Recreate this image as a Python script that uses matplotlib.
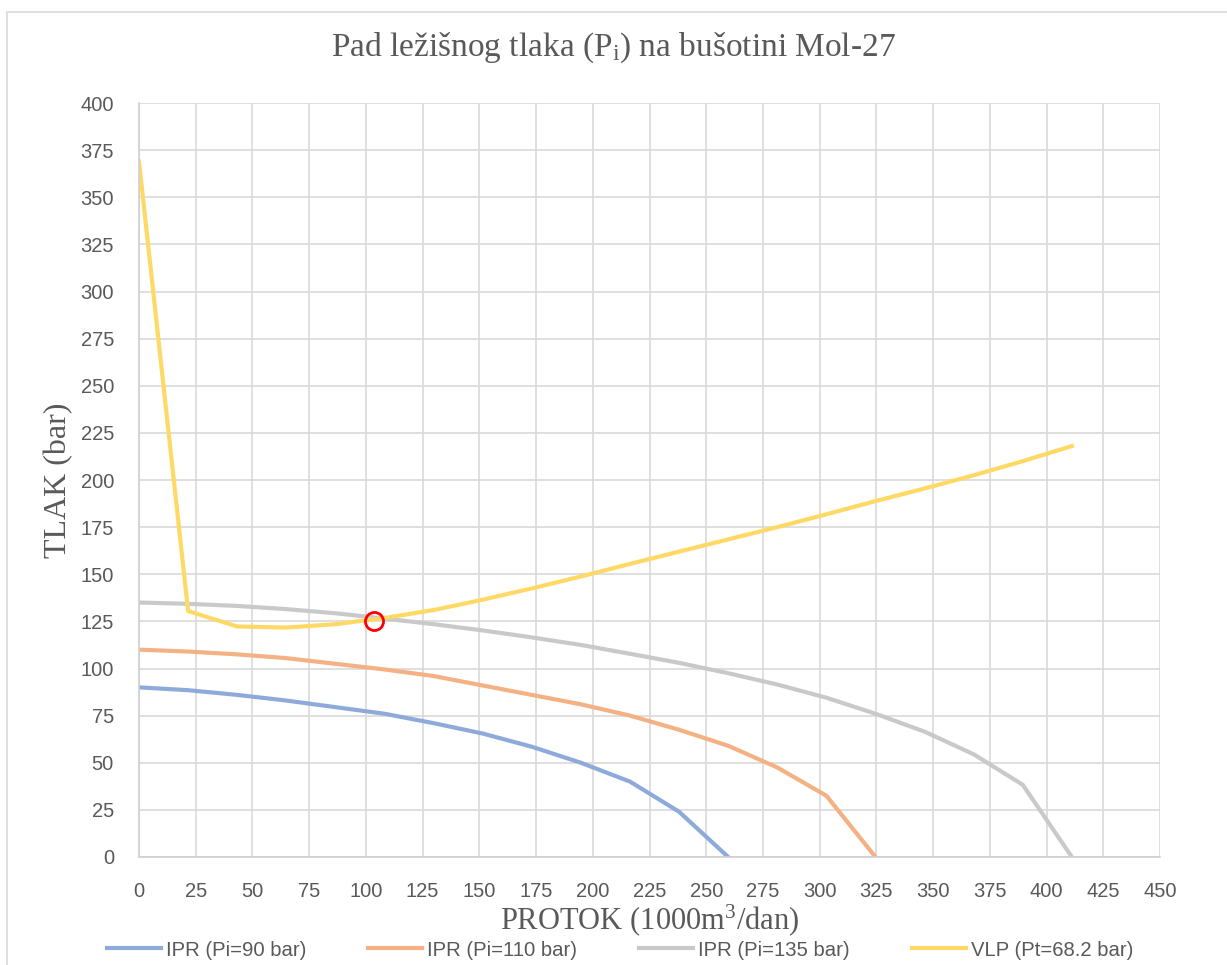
import numpy as np
import matplotlib
matplotlib.use('Agg')
import matplotlib.pyplot as plt
from matplotlib.patches import Rectangle

# flow rate step used in the source sheet (1000 m3/dan)
step = 21.64

# IPR curves (Pi = 90, 110, 135 bar) and VLP curve, pressures in bar
p_ipr90 = [90, 88.5, 86, 83, 79.5, 76, 71, 65.5, 58.5, 50, 40, 24, 0]
p_ipr110 = [110, 109, 107.5, 105.5, 102.5, 99.5, 96, 91, 86, 81, 75, 67.5,
            59, 47.5, 32.5, 0]
p_ipr135 = [135, 134.3, 133.2, 131.5, 129.3, 126.5, 123.5, 120.2, 116.5,
            112.5, 107.8, 103, 97.5, 91.5, 84.5, 76, 66.5, 54.5, 38.3, 0]
p_vlp = [369, 130.5, 122.3, 121.7, 123.5, 126.8, 131, 136.5, 142.5, 148.8,
         155.5, 162, 168.5, 175, 181.8, 188.8, 195.5, 202.5, 210, 218]

# operating point (intersection)
op_q = 103.7
op_p = 125.3

labels = ['IPR (Pi=90 bar)', 'IPR (Pi=110 bar)', 'IPR (Pi=135 bar)', 'VLP (Pt=68.2 bar)']
colors = ['#8eaadb', '#f4b183', '#c9c9c9', '#ffd966']

plt.rcParams['mathtext.fontset'] = 'custom'
plt.rcParams['mathtext.rm'] = 'Liberation Serif'
plt.rcParams['mathtext.it'] = 'Liberation Serif'

txt = '#595959'
serif = 'Liberation Serif'
sans = 'Liberation Sans'

fig = plt.figure(figsize=(12.27, 9.65), dpi=100)
ax = fig.add_axes([139/1227, 1 - 857/965, (1160-139)/1227, (857-103)/965])

series = [p_ipr90, p_ipr110, p_ipr135, p_vlp]
for p, lab, c in zip(series, labels, colors):
    q = np.arange(len(p)) * step
    ax.plot(q, p, color=c, lw=3, label=lab, solid_joinstyle='round')

ax.plot([op_q], [op_p], 'o', ms=13, mfc='none', mec='red', mew=2)

ax.set_xlim(0, 450)
ax.set_ylim(0, 400)
ax.set_xticks(np.arange(0, 451, 25))
ax.set_yticks(np.arange(0, 401, 25))
ax.grid(True, color='#d9d9d9', lw=1.2)
ax.set_axisbelow(True)
for s in ['top', 'right']:
    ax.spines[s].set_visible(False)
for s in ['left', 'bottom']:
    ax.spines[s].set_color('#d0d0d0')
    ax.spines[s].set_linewidth(1.2)
ax.tick_params(length=0, pad=18, colors=txt, labelsize=14.5)
for t in ax.get_xticklabels() + ax.get_yticklabels():
    t.set_fontfamily(sans)

ax.set_xlabel('PROTOK (1000m$^3$/dan)', fontsize=22, family=serif, color=txt, labelpad=1)
ax.set_ylabel('TLAK (bar)', fontsize=23, family=serif, color=txt, labelpad=5)
fig.text(0.5, 1 - 48/965, 'Pad ležišnog tlaka (P$_\\mathrm{i}$) na bušotini Mol-27',
         ha='center', va='center', fontsize=24, family=serif, color=txt)

leg = fig.legend(loc='center', bbox_to_anchor=(620/1227, 1 - 950/965), ncol=4,
                 frameon=False, handlelength=2.67, columnspacing=3.05,
                 handletextpad=0.25, borderpad=0.1, prop={'family': sans, 'size': 14.6})
for t in leg.get_texts():
    t.set_color(txt)

fig.patches.append(Rectangle((7/1227, -0.1), 1.2, 1.1 - 12/965, transform=fig.transFigure,
                             fill=False, ec='#d9d9d9', lw=1.2))

fig.savefig('out.png', dpi=100)
